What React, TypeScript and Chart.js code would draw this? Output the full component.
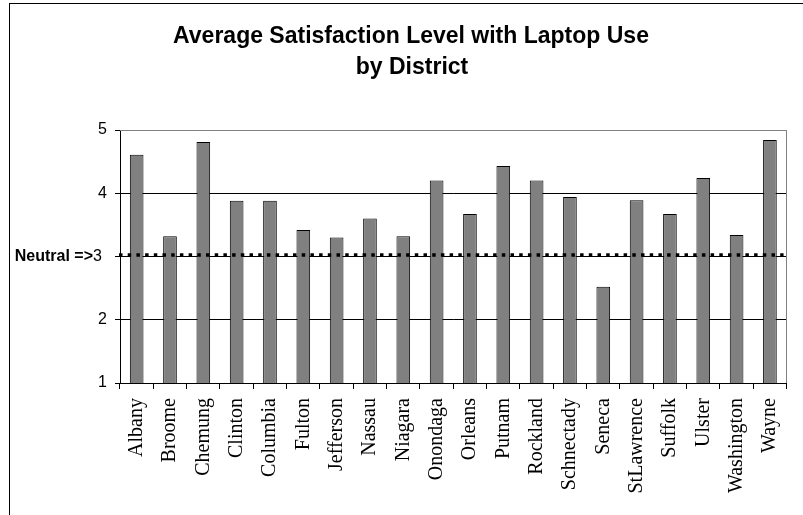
import { useEffect, useRef } from 'react';
import { Chart, registerables } from 'chart.js';

Chart.register(...registerables);

// District names along the category axis
const districts = [
  'Albany', 'Broome', 'Chemung', 'Clinton', 'Columbia', 'Fulton', 'Jefferson',
  'Nassau', 'Niagara', 'Onondaga', 'Orleans', 'Putnam', 'Rockland', 'Schnectady',
  'Seneca', 'StLawrence', 'Suffolk', 'Ulster', 'Washington', 'Wayne',
];

// Average satisfaction per district (1–5 scale)
const satisfaction = [
  4.61, 3.32, 4.81, 3.88, 3.88, 3.42, 3.30, 3.60, 3.32, 4.20,
  3.67, 4.43, 4.20, 3.94, 2.52, 3.89, 3.67, 4.24, 3.34, 4.84,
];

const yMin = 1;
const yMax = 5;
const yStep = 1;

// Neutral reference level and its axis label
const neutralValue = 3;
const neutralPrefix = 'Neutral =>';

const titleLines = ['Average Satisfaction Level with Laptop Use', 'by District'];

const SANS = '"Liberation Sans", Arial, sans-serif';
const SERIF = '"Liberation Serif", "Times New Roman", serif';

// White page, outer frame and the two-line title
const framePlugin = {
  id: 'frame',
  beforeDraw(chart: any) {
    const { ctx, width, height } = chart;
    ctx.save();
    ctx.fillStyle = '#ffffff';
    ctx.fillRect(0, 0, width, height);
    ctx.strokeStyle = '#000000';
    ctx.lineWidth = 1;
    ctx.strokeRect(9.5, 3.5, width + 40, height + 40);
    ctx.fillStyle = '#000000';
    ctx.font = `bold 23px ${SANS}`;
    ctx.textAlign = 'center';
    ctx.textBaseline = 'alphabetic';
    ctx.fillText(titleLines[0], 411, 42.5);
    ctx.fillText(titleLines[1], 412, 74);
    ctx.restore();
  },
};

// Plot-area border, dotted neutral line and its label
const neutralPlugin = {
  id: 'neutral',
  afterDatasetsDraw(chart: any) {
    const { ctx, chartArea, scales } = chart;
    const y = scales.y.getPixelForValue(neutralValue);
    ctx.save();
    // gray border on the top and right of the plot area
    ctx.strokeStyle = '#808080';
    ctx.lineWidth = 1;
    ctx.beginPath();
    ctx.moveTo(chartArea.left, Math.round(chartArea.top) + 0.5);
    ctx.lineTo(Math.round(chartArea.right) - 0.5, Math.round(chartArea.top) + 0.5);
    ctx.lineTo(Math.round(chartArea.right) - 0.5, chartArea.bottom);
    ctx.stroke();

    // dotted neutral line
    ctx.strokeStyle = '#000000';
    ctx.lineWidth = 3.5;
    ctx.lineCap = 'butt';
    ctx.setLineDash([3.5, 5.2]);
    ctx.beginPath();
    ctx.moveTo(chartArea.left - 1, y - 1.5);
    ctx.lineTo(chartArea.right - 3, y - 1.5);
    ctx.stroke();
    ctx.setLineDash([]);

    // "Neutral =>3" axis label
    ctx.fillStyle = '#000000';
    ctx.textBaseline = 'middle';
    ctx.textAlign = 'left';
    ctx.font = `16px ${SANS}`;
    ctx.fillText(String(neutralValue), 93, y);
    ctx.textAlign = 'right';
    ctx.font = `bold 16px ${SANS}`;
    ctx.fillText(neutralPrefix, 93, y);
    ctx.restore();
  },
};

export default function App() {
  const canvasRef = useRef<HTMLCanvasElement | null>(null);

  useEffect(() => {
    const canvas = canvasRef.current;
    if (!canvas) return;
    const chart = new Chart(canvas, {
      type: 'bar',
      data: {
        labels: districts,
        datasets: [
          {
            data: satisfaction,
            backgroundColor: '#808080',
            borderColor: '#000000',
            borderWidth: 1,
            barPercentage: 0.41,
            categoryPercentage: 1,
          },
        ],
      },
      options: {
        responsive: false,
        animation: false,
        devicePixelRatio: 1,
        layout: { padding: { top: 130, right: 3, left: 0, bottom: 0 } },
        plugins: {
          legend: { display: false },
          title: { display: false },
          tooltip: { enabled: false },
        },
        scales: {
          x: {
            offset: true,
            grid: {
              offset: true,
              drawOnChartArea: false,
              drawTicks: true,
              tickLength: 6,
              color: '#000000',
            },
            border: { color: '#000000', width: 1 },
            ticks: {
              autoSkip: false,
              maxRotation: 90,
              minRotation: 90,
              padding: 9,
              color: '#000000',
              font: { family: SERIF, size: 20 },
            },
            afterFit: (scale: any) => {
              scale.height = 132;
            },
          },
          y: {
            min: yMin,
            max: yMax,
            ticks: {
              stepSize: yStep,
              padding: 8,
              color: '#000000',
              font: { family: SANS, size: 16 },
              callback: (v: any) => (Number(v) === neutralValue ? '' : String(v)),
            },
            grid: {
              color: (ctx: any) => (ctx.tick && ctx.tick.value === yMax ? '#808080' : '#000000'),
              tickColor: '#000000',
              tickLength: 5,
              lineWidth: 1,
            },
            border: { color: '#000000', width: 1 },
            afterFit: (scale: any) => {
              scale.width = 120;
            },
          },
        },
      },
      plugins: [framePlugin, neutralPlugin],
    });
    return () => chart.destroy();
  }, []);

  return (
    <div style={{ position: 'absolute', left: 0, top: 0, width: 803, height: 515 }}>
      <canvas ref={canvasRef} width={803} height={515} style={{ display: 'block' }} />
    </div>
  );
}
